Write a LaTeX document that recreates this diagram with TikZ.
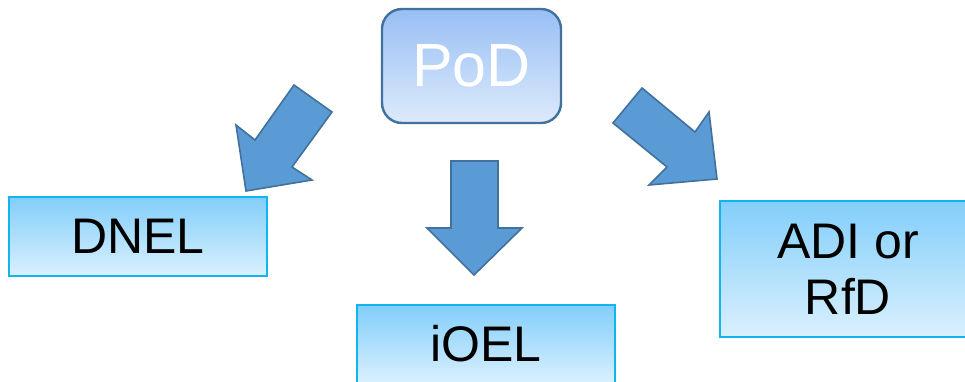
\documentclass[tikz,border=0pt]{standalone}
\usepackage{fontspec}
\setmainfont{Liberation Sans}
\definecolor{podtop}{HTML}{98BFF4}
\definecolor{podbot}{HTML}{DDEAFB}
\definecolor{podline}{HTML}{41719C}
\definecolor{boxtop}{HTML}{82CEFA}
\definecolor{boxbot}{HTML}{DAF0FE}
\definecolor{boxline}{HTML}{10B4EE}
\definecolor{arrowfill}{HTML}{5B9BD5}
\definecolor{arrowline}{HTML}{41719C}
\tikzset{
  podbox/.style={draw=podline, line width=2.4pt, rounded corners=20pt,
    top color=podtop, bottom color=podbot, text=white,
    minimum width=179pt, minimum height=114pt, inner sep=0pt,
    font=\fontsize{61}{66}\selectfont},
  levelbox/.style={draw=boxline, line width=2pt,
    top color=boxtop, bottom color=boxbot, text=black,
    inner sep=0pt, align=center,
    font=\fontsize{50}{56}\selectfont},
  blockarrow/.style={fill=arrowfill, draw=arrowline, line width=1.6pt, line join=miter}
}
\begin{document}
\begin{tikzpicture}[x=1pt, y=-1pt]
  \useasboundingbox (0,0) rectangle (965,381);
  \clip (0,0) rectangle (965,381);
  % source box
  \node[podbox] (pod) at (471.5,66) {\raisebox{-3pt}{PoD}};
  % target boxes
  \node[levelbox, minimum width=258pt, minimum height=79pt] (dnel) at (138,236.5) {DNEL};
  \node[levelbox, minimum width=258pt, minimum height=78pt] (ioel) at (486,344) {iOEL};
  \node[levelbox, minimum width=256pt, minimum height=136pt] (adi) at (848,269) {ADI or\\RfD};
  % block arrows from the source towards each target
  \draw[blockarrow] (294,85) -- (332,112) -- (292,167) -- (312,180) -- (246,191) -- (236,125) -- (255,140) -- cycle;
  \draw[blockarrow] (451,161) -- (498,161) -- (498,228) -- (522,228) -- (474,275) -- (427,228) -- (451,228) -- cycle;
  \draw[blockarrow] (613,123) -- (642,88) -- (695,132) -- (709,112) -- (717,179) -- (649,185) -- (667,167) -- cycle;
\end{tikzpicture}
\end{document}
